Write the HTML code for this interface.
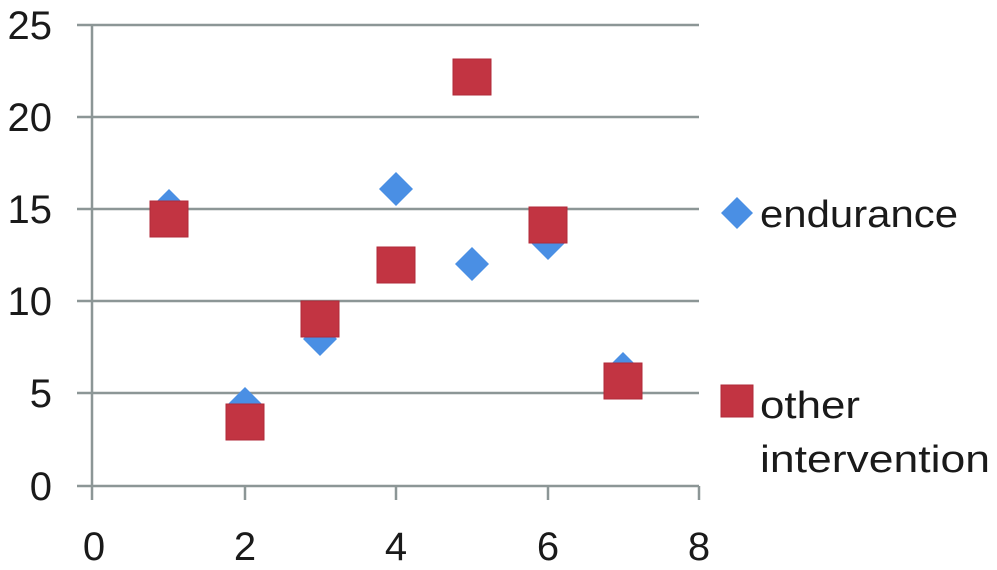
<!DOCTYPE html>
<html><head><style>body{margin:0;background:#fff}</style></head><body>
<svg width="997" height="565" xmlns="http://www.w3.org/2000/svg" font-family="Liberation Sans, sans-serif">
<g stroke="#8c9696" stroke-width="2.5">
<line x1="77" y1="25" x2="699" y2="25"/>
<line x1="77" y1="117" x2="699" y2="117"/>
<line x1="77" y1="209" x2="699" y2="209"/>
<line x1="77" y1="301" x2="699" y2="301"/>
<line x1="77" y1="393" x2="699" y2="393"/>
<line x1="77" y1="486" x2="699" y2="486"/>
<line x1="92" y1="25" x2="92" y2="500"/>
<line x1="245" y1="486" x2="245" y2="500"/>
<line x1="396" y1="486" x2="396" y2="500"/>
<line x1="548" y1="486" x2="548" y2="500"/>
<line x1="699" y1="486" x2="699" y2="500"/>
</g>
<g font-size="40" fill="#1a1a1a" text-anchor="end">
<text x="52" y="39">25</text>
<text x="52" y="131">20</text>
<text x="52" y="223">15</text>
<text x="52" y="315">10</text>
<text x="52" y="407">5</text>
<text x="52" y="500">0</text>
</g>
<g font-size="40" fill="#1a1a1a" text-anchor="middle">
<text x="94" y="560">0</text>
<text x="245" y="560">2</text>
<text x="396" y="560">4</text>
<text x="548" y="560">6</text>
<text x="699" y="560">8</text>
</g>
<g fill="#4a8fe4">
<polygon points="169,189 186,206 169,223 152,206"/>
<polygon points="245,387 262,404 245,421 228,404"/>
<polygon points="320,322 337,339 320,356 303,339"/>
<polygon points="396,172 413,189 396,206 379,189"/>
<polygon points="472,247 489,264 472,281 455,264"/>
<polygon points="548,226 565,243 548,260 531,243"/>
<polygon points="623,352 640,369 623,386 606,369"/>
<polygon points="737,197 753,213 737,229 721,213"/>
</g>
<g fill="#c23442" stroke="#b02a38" stroke-width="1">
<rect x="150" y="201" width="38" height="36"/>
<rect x="226" y="404" width="38" height="36"/>
<rect x="301" y="301" width="38" height="36"/>
<rect x="377" y="247" width="38" height="36"/>
<rect x="453" y="59" width="38" height="36"/>
<rect x="529" y="207" width="38" height="36"/>
<rect x="604" y="363" width="38" height="36"/>
<rect x="721" y="385" width="32" height="32"/>
</g>
<g font-size="38" fill="#1a1a1a">
<text x="760" y="227" textLength="198" lengthAdjust="spacingAndGlyphs">endurance</text>
<text x="760" y="418" textLength="100" lengthAdjust="spacingAndGlyphs">other</text>
<text x="760" y="472" textLength="230" lengthAdjust="spacingAndGlyphs">intervention</text>
</g>
</svg>
</body></html>
